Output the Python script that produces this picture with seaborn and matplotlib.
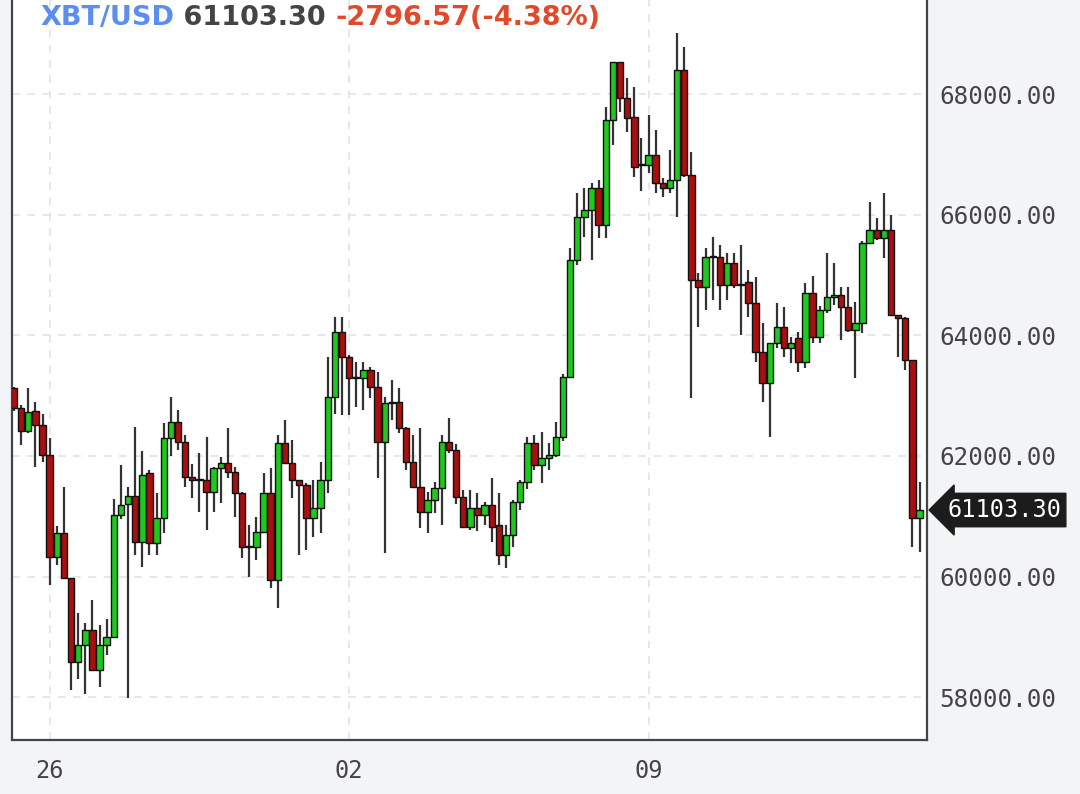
import numpy as np
import pandas as pd
import seaborn as sns
import matplotlib.pyplot as plt
import matplotlib.dates as mdates
from matplotlib.transforms import blended_transform_factory

# 4h candles, XBT/USD
opens = [63125, 62790, 62410, 62740, 62510, 62010, 60320, 60720, 59970, 58580,
         58860, 59110, 58450, 58860, 59000, 61020, 61200, 61330, 60570, 61710,
         60560, 60970, 62300, 62560, 62230, 61650, 61600, 61600, 61400, 61800,
         61880, 61730, 61380, 60490, 60490, 60740, 61380, 59940, 62210, 61880,
         61600, 61520, 60970, 61140, 61600, 62980, 64050, 63640, 63290, 63290,
         63420, 63140, 62230, 62880, 62900, 62460, 61900, 61480, 61070, 61270,
         61470, 62230, 62100, 61320, 60820, 61140, 61020, 61190, 60850, 60350,
         60690, 61240, 61570, 62210, 61850, 61970, 62020, 62310, 63310, 65250,
         65960, 66080, 66440, 65830, 67570, 68530, 67930, 67620, 66820, 66820,
         66990, 66520, 66440, 66570, 68400, 66660, 64920, 64800, 65300, 65300,
         64830, 65200, 64830, 64880, 64530, 63720, 63210, 63870, 64140, 63790,
         63950, 63560, 64700, 63970, 64420, 64630, 64670, 64470, 64090, 64200,
         65530, 65750, 65610, 65750, 64340, 64290, 63590, 60970]
highs = [63150, 62840, 63125, 62890, 62700, 62300, 60840, 61480, 59970, 59390,
         59230, 59610, 59200, 59300, 61280, 61850, 61480, 62480, 62080, 61770,
         61380, 62545, 62980, 62760, 62340, 61860, 62050, 62310, 61820, 61980,
         62460, 61810, 61400, 60850, 60990, 61720, 61800, 62350, 62600, 62260,
         61600, 61550, 61600, 61900, 63640, 64300, 64300, 63670, 63560, 63560,
         63470, 63390, 62980, 63260, 63125, 62480, 62350, 62460, 61400, 61570,
         62350, 62630, 62190, 61440, 61440, 61390, 61240, 61630, 61390, 60850,
         61270, 61600, 62310, 62350, 62390, 62210, 62560, 63360, 65450, 66360,
         66440, 66520, 66570, 67790, 68530, 68530, 68260, 68120, 67270, 67650,
         67400, 66610, 67080, 69010, 68780, 67040, 65040, 65450, 65630, 65500,
         65360, 65360, 65500, 65080, 64960, 64200, 63870, 64530, 64470, 63970,
         64050, 64870, 64990, 64480, 65360, 65200, 64800, 64800, 64550, 65560,
         66210, 65940, 66360, 66000, 64340, 64300, 63590, 61570]
lows = [62750, 62180, 62380, 61820, 61900, 59860, 60190, 59970, 58120, 58300,
        58050, 58450, 58170, 58700, 59000, 60950, 57990, 60360, 60160, 60360,
        60360, 60720, 62000, 62100, 61480, 61300, 61070, 60770, 61070, 61220,
        61640, 60980, 60310, 59990, 60270, 60720, 59810, 59480, 61880, 61300,
        60360, 60440, 60650, 60720, 61380, 62700, 62680, 62680, 62810, 62760,
        62960, 61630, 60390, 62600, 62380, 61770, 61470, 60800, 60720, 61050,
        60850, 62050, 61200, 60820, 60770, 60750, 60850, 60570, 60190, 60140,
        60490, 61100, 61450, 61770, 61550, 61770, 61980, 62250, 63310, 65170,
        65630, 65250, 65610, 65610, 67150, 67700, 67370, 66620, 66390, 66690,
        66360, 66290, 66360, 65960, 66620, 62960, 64140, 64420, 64580, 64420,
        64580, 64780, 64000, 64300, 63550, 62900, 62310, 63790, 63640, 63540,
        63390, 63460, 63870, 63870, 64370, 64500, 63920, 64050, 63300, 64040,
        65530, 65580, 65280, 64340, 63640, 63420, 60490, 60400]
closes = [62790, 62410, 62730, 62510, 62010, 60320, 60720, 59970, 58580, 58860,
          59110, 58450, 58860, 59000, 61020, 61180, 61330, 60570, 61680, 60560,
          60970, 62300, 62560, 62230, 61650, 61600, 61600, 61400, 61800, 61880,
          61730, 61380, 60490, 60500, 60740, 61380, 59940, 62210, 61880, 61600,
          61520, 60970, 61140, 61600, 62980, 64050, 63640, 63290, 63290, 63420,
          63140, 62230, 62880, 62900, 62460, 61900, 61480, 61070, 61270, 61470,
          62230, 62100, 61320, 60820, 61140, 61020, 61190, 60820, 60350, 60690,
          61240, 61570, 62210, 61850, 61970, 62020, 62310, 63310, 65250, 65960,
          66080, 66440, 65830, 67570, 68530, 67930, 67600, 66790, 66820, 66990,
          66520, 66440, 66570, 68400, 66660, 64920, 64800, 65300, 65300, 64830,
          65200, 64830, 64830, 64530, 63720, 63210, 63870, 64140, 63790, 63870,
          63560, 64700, 63970, 64420, 64630, 64670, 64470, 64090, 64200, 65530,
          65750, 65610, 65750, 64340, 64290, 63590, 60970, 61103.30]

symbol = 'XBT/USD'
last_price = 61103.30
change = -2796.57
change_pct = -4.38
price_ticks = [58000, 60000, 62000, 64000, 66000, 68000]
date_ticks = ['2021-10-26', '2021-11-02', '2021-11-09']

times = pd.date_range('2021-10-25 04:00', periods=len(opens), freq='4h')
df = pd.DataFrame({'open': opens, 'high': highs, 'low': lows, 'close': closes}, index=times)

sns.set_style('white')
plt.rcParams['font.family'] = ['DejaVu Sans']

fig = plt.figure(figsize=(10.8, 7.94), dpi=100, facecolor='#f3f4f6')
ax = fig.add_axes([12 / 1080, 54 / 794, 915 / 1080, 740 / 794])
ax.set_facecolor('white')

x = mdates.date2num(df.index.to_pydatetime())
step = 4 / 24
width = step * 0.9
up = df['close'] >= df['open']
colors = np.where(up, '#1ec81e', '#a81010')
body_low = np.minimum(df['open'], df['close'])
body_h = np.maximum((df['close'] - df['open']).abs(), 20)

ax.vlines(x, df['low'], df['high'], color='#333333', lw=1.6, zorder=2)
ax.bar(x, body_h, bottom=body_low, width=width, color=colors,
       edgecolor='#111111', linewidth=1.0, zorder=3)

ax.set_xlim(x[0] - 0.28 * step, x[0] + 128.05 * step)
ax.set_ylim(57290, 69560)

# grid
for t in date_ticks:
    ax.axvline(mdates.date2num(pd.Timestamp(t)), color='#e0e0e0', lw=1.1,
               ls=(0, (5, 5)), zorder=0)
for p in price_ticks:
    ax.axhline(p, color='#e0e0e0', lw=1.1, ls=(0, (5, 5)), zorder=0)

ax.set_xticks([mdates.date2num(pd.Timestamp(t)) for t in date_ticks])
ax.set_xticklabels([pd.Timestamp(t).strftime('%d') for t in date_ticks])
ax.set_yticks(price_ticks)
ax.set_yticklabels([f'{p:.2f}' for p in price_ticks])
ax.yaxis.tick_right()
ax.tick_params(axis='y', length=0, pad=9, labelsize=17.5, labelcolor='#444444')
ax.tick_params(axis='x', length=7, width=1.3, color='#444444', pad=7,
               labelsize=17, labelcolor='#444444', direction='out')
for lab in ax.get_xticklabels() + ax.get_yticklabels():
    lab.set_family('DejaVu Sans Mono')

for side in ['left', 'bottom', 'right']:
    ax.spines[side].set_color('#444444')
    ax.spines[side].set_linewidth(1.6)
ax.spines['top'].set_visible(False)

# last price tag
trans = blended_transform_factory(ax.transAxes, ax.transData)
ax.text(1.022, last_price, f'{last_price:.2f}', transform=trans, ha='left', va='center',
        color='white', fontsize=17, family='DejaVu Sans Mono', clip_on=False,
        bbox=dict(boxstyle='larrow,pad=0.2', fc='#1c1c1c', ec='#1c1c1c'))

# header
t1 = fig.text(40 / 1080, 1 - 18 / 794, symbol, color='#5b8ef0', fontsize=19.5,
              fontweight='bold', va='center', ha='left')
t2 = ax.annotate(f' {last_price:.2f} ', xycoords=t1, xy=(1, 0.5), va='center',
                 color='#444444', fontsize=19.5, fontweight='bold', annotation_clip=False)
t3 = ax.annotate(f'{change:.2f}({change_pct:.2f}%)', xycoords=t2, xy=(1, 0.5), va='center',
                 color='#e04a2a', fontsize=19.5, fontweight='bold', annotation_clip=False)

fig.savefig('out.png', dpi=100, facecolor=fig.get_facecolor())
